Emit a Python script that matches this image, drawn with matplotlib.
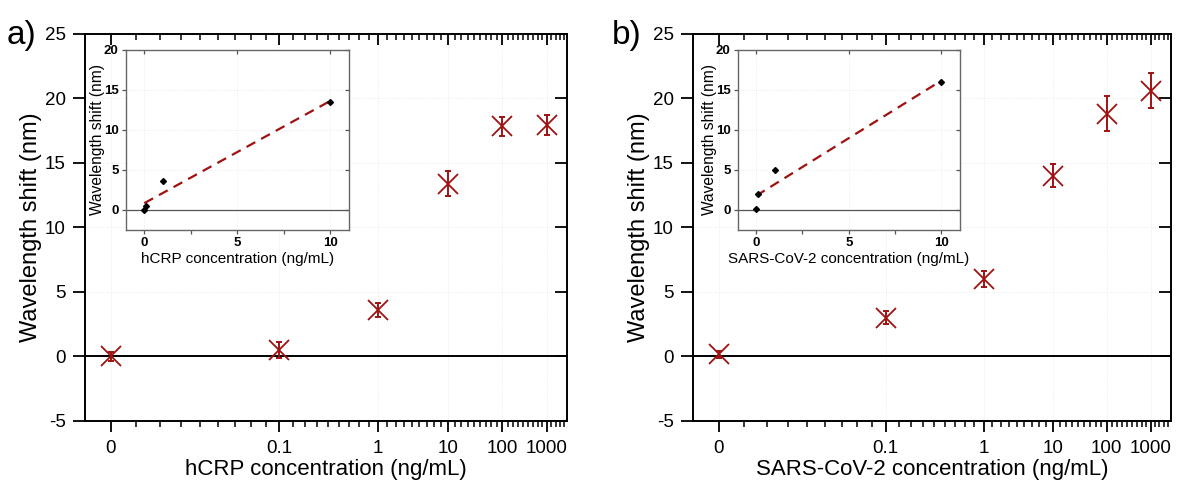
import numpy as np
import matplotlib
matplotlib.use("Agg")
import matplotlib.pyplot as plt
from matplotlib.ticker import FixedLocator, NullFormatter

plt.rcParams['font.family'] = ['Liberation Sans', 'DejaVu Sans']
plt.rcParams['axes.unicode_minus'] = False

# main panels: concentration (ng/mL) vs wavelength shift (nm)
conc = [0, 0.1, 1, 10, 100, 1000]
conc_labels = ['0', '0.1', '1', '10', '100', '1000']

crp_shift = [0.0, 0.5, 3.6, 13.4, 17.85, 17.95]
crp_err = [0.35, 0.6, 0.55, 0.95, 0.73, 0.78]

sars_shift = [0.15, 3.0, 6.0, 14.0, 18.8, 20.6]
sars_err = [0.25, 0.52, 0.6, 0.88, 1.35, 1.36]

# insets: linear range
inset_conc = [0, 0.1, 1, 10]
crp_inset = [0.0, 0.5, 3.6, 13.5]
sars_inset = [0.1, 2.0, 5.0, 16.0]

RED = '#a01212'


# Origin style axis: 0 is drawn at 0.01, axis is log of (log10(c) + 3)
def fwd(x):
    x = np.asarray(x, dtype=float)
    x = np.where(x <= 0, 0.01, x)
    x = np.maximum(x, 10 ** -2.9)
    return np.log(np.log10(x) + 3)


def inv(y):
    return 10 ** (np.exp(np.asarray(y, dtype=float)) - 3)


g_lo, g_hi = 0.9, 6.52
minor_g = [n + k / 9 for n in range(0, 7) for k in range(1, 9)]
minor_x = [10 ** (g - 3) for g in minor_g if g_lo < g < g_hi]


def main_panel(ax, y, err, xlabel):
    ax.set_xscale('function', functions=(fwd, inv))
    ax.set_xlim(10 ** (g_lo - 3), 10 ** (g_hi - 3))
    ax.set_ylim(-5, 25)
    ax.set_axisbelow(True)
    ax.axhline(0, color='black', lw=1.4, zorder=1)
    ax.errorbar(conc, y, yerr=err, fmt='none', ecolor=RED, elinewidth=1.4,
                capsize=2.5, capthick=1.4, zorder=3)
    ax.plot(conc, y, 'x', color=RED, markersize=15, markeredgewidth=1.3, zorder=3)

    xt = [0.01, 0.1, 1, 10, 100, 1000]
    ax.xaxis.set_major_locator(FixedLocator(xt))
    ax.set_xticklabels(conc_labels)
    ax.xaxis.set_minor_locator(FixedLocator(minor_x))
    ax.xaxis.set_minor_formatter(NullFormatter())
    ax.set_yticks(range(-5, 26, 5))
    ax.grid(True, which='major', color='#e8e8e8', lw=0.6, ls=':')

    ax.tick_params(axis='both', which='major', labelsize=13.5, width=1.3)
    ax.tick_params(axis='x', which='major', direction='out', length=8,
                   top=True, pad=6)
    ax.tick_params(axis='x', which='minor', direction='out', length=4,
                   width=1.1, top=True)
    ax.tick_params(axis='y', which='major', direction='out', length=9,
                   right=True, pad=5)
    # top / right ticks point inward
    for t in ax.xaxis.get_major_ticks() + ax.xaxis.get_minor_ticks():
        t.tick2line.set_marker(3)
    for t in ax.yaxis.get_major_ticks():
        t.tick2line.set_marker(0)
    for s in ax.spines.values():
        s.set_linewidth(1.4)
    ax.set_xlabel(xlabel, fontsize=16, labelpad=1)
    ax.set_ylabel('Wavelength shift (nm)', fontsize=17, labelpad=2)


def inset_panel(ax, y, xlabel):
    ax.set_xlim(-1, 11)
    ax.set_ylim(-2.5, 20)
    ax.set_axisbelow(True)
    ax.axhline(0, color='#555555', lw=0.9, zorder=1)
    slope, icpt = np.polyfit(inset_conc, y, 1)
    xf = np.array([inset_conc[0], inset_conc[-1]])
    ax.plot(xf, slope * xf + icpt, color=RED, lw=1.6, dashes=(4.5, 3), zorder=2)
    ax.plot(inset_conc, y, 'D', color='black', markersize=3, zorder=3)
    ax.set_xticks([0, 5, 10])
    ax.set_xticks([2.5, 7.5], minor=True)
    ax.set_yticks([0, 5, 10, 15, 20])
    ax.grid(True, which='major', color='#e8e8e8', lw=0.6, ls=':')
    ax.tick_params(axis='both', which='both', labelsize=9.5, width=0.9,
                   color='#555555', length=3, pad=2)
    ax.tick_params(axis='x', top=True, direction='out')
    ax.tick_params(axis='y', right=True, direction='out')
    for t in ax.xaxis.get_major_ticks() + ax.xaxis.get_minor_ticks():
        t.tick2line.set_marker(3)
    for t in ax.yaxis.get_major_ticks():
        t.tick2line.set_marker(0)
    for lab in ax.get_xticklabels() + ax.get_yticklabels():
        lab.set_fontweight('bold')
    for s in ax.spines.values():
        s.set_color('#666666')
        s.set_linewidth(1.0)
    ax.set_xlabel(xlabel, fontsize=11, labelpad=2)
    ax.set_ylabel('Wavelength shift (nm)', fontsize=11.2, labelpad=-1)


fig = plt.figure(figsize=(11.78, 4.91), dpi=100)

ax1 = fig.add_axes([0.0722, 0.1432, 0.4092, 0.7876])
ax2 = fig.add_axes([0.5885, 0.1432, 0.4053, 0.7876])
main_panel(ax1, crp_shift, crp_err, 'hCRP concentration (ng/mL)')
main_panel(ax2, sars_shift, sars_err, 'SARS-CoV-2 concentration (ng/mL)')

in1 = fig.add_axes([0.1067, 0.5316, 0.1896, 0.3666])
in2 = fig.add_axes([0.6262, 0.5316, 0.1887, 0.3666])
inset_panel(in1, crp_inset, 'hCRP concentration (ng/mL)')
inset_panel(in2, sars_inset, 'SARS-CoV-2 concentration (ng/mL)')

fig.text(0.006, 0.928, 'a)', fontsize=24, va='center')
fig.text(0.519, 0.928, 'b)', fontsize=24, va='center')

fig.savefig('out.png', dpi=100)
